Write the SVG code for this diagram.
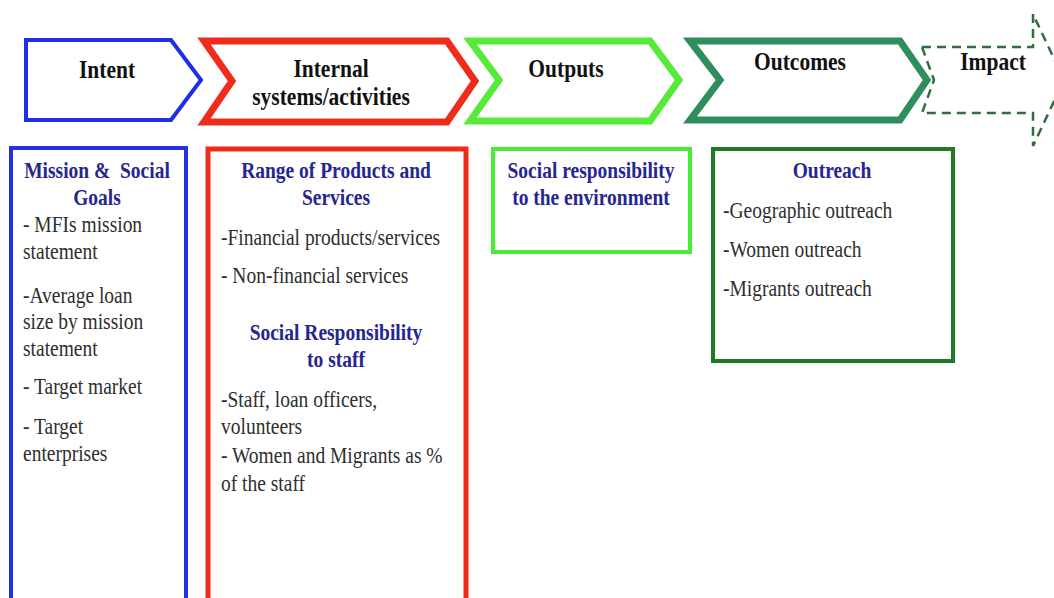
<svg xmlns="http://www.w3.org/2000/svg" width="1054" height="598" viewBox="0 0 1054 598">
  <style>
    .stage { fill: #ffffff; stroke-linejoin: miter; }
    .hdr { font-family: "Liberation Serif", "Times New Roman", serif; font-weight: bold; font-size: 21.5px; fill: #111111; text-anchor: middle; }
    .ttl { font-family: "Liberation Serif", "Times New Roman", serif; font-weight: bold; font-size: 19.5px; fill: #262690; text-anchor: middle; white-space: pre; }
    .txt { font-family: "Liberation Serif", "Times New Roman", serif; font-size: 19.5px; fill: #2e2e2e; }
    .panel { fill: #ffffff; }
  </style>
  <rect width="1054" height="598" fill="#ffffff"/>

  <!-- Stage chevrons -->
  <g id="stage-intent">
    <polygon class="stage" points="26,40 171,40 201,80 171,120 26,120" stroke="#1f30e4" stroke-width="4"/>
    <text class="hdr" transform="translate(107,78) scale(1,1.15)">Intent</text>
  </g>
  <g id="stage-internal">
    <polygon class="stage" points="204,41 447,41 475,81 447,122 204,122 232,81" stroke="#ef2b1c" stroke-width="7"/>
    <text class="hdr" transform="translate(331,77) scale(1,1.15)">Internal</text>
    <text class="hdr" transform="translate(331,105) scale(1,1.15)">systems/activities</text>
  </g>
  <g id="stage-outputs">
    <polygon class="stage" points="470,41 650,41 679,80 650,121 470,121 499,80" stroke="#58ea3a" stroke-width="7"/>
    <text class="hdr" transform="translate(566,77) scale(1,1.15)">Outputs</text>
  </g>
  <g id="stage-outcomes">
    <polygon class="stage" points="690,41 900,41 927,80 900,120 690,120 720,80" stroke="#2e8e5e" stroke-width="7"/>
    <text class="hdr" transform="translate(800,70) scale(1,1.15)">Outcomes</text>
  </g>
  <g id="stage-impact">
    <path d="M922,47 L1033,47 L1033,14 L1064,80 L1033,146 L1033,113 L922,113 L934,80 Z" fill="none" stroke="#2f6e40" stroke-width="2.5" stroke-dasharray="9 6"/>
    <text class="hdr" transform="translate(993,70) scale(1,1.15)">Impact</text>
  </g>

  <!-- Detail panels -->
  <g id="panel-intent">
    <rect class="panel" x="11" y="148" width="175" height="470" stroke="#2233dd" stroke-width="4"/>
    <text class="ttl" xml:space="preserve" transform="translate(97,178) scale(1,1.15)">Mission &amp;  Social</text>
    <text class="ttl" transform="translate(97,205) scale(1,1.15)">Goals</text>
    <text class="txt" transform="translate(23,232) scale(1,1.15)">- MFIs mission</text>
    <text class="txt" transform="translate(23,259) scale(1,1.15)">statement</text>
    <text class="txt" transform="translate(23,303) scale(1,1.15)">-Average loan</text>
    <text class="txt" transform="translate(23,329) scale(1,1.15)">size by mission</text>
    <text class="txt" transform="translate(23,356) scale(1,1.15)">statement</text>
    <text class="txt" transform="translate(23,394) scale(1,1.15)">- Target market</text>
    <text class="txt" transform="translate(23,434) scale(1,1.15)">- Target</text>
    <text class="txt" transform="translate(23,461) scale(1,1.15)">enterprises</text>
  </g>
  <g id="panel-internal">
    <rect class="panel" x="208" y="149" width="258" height="470" stroke="#ee2b1b" stroke-width="5"/>
    <text class="ttl" transform="translate(336,178) scale(1,1.15)">Range of Products and</text>
    <text class="ttl" transform="translate(336,205) scale(1,1.15)">Services</text>
    <text class="txt" transform="translate(221,245) scale(1,1.15)">-Financial products/services</text>
    <text class="txt" transform="translate(221,283) scale(1,1.15)">- Non-financial services</text>
    <text class="ttl" transform="translate(336,340) scale(1,1.15)">Social Responsibility</text>
    <text class="ttl" transform="translate(336,367) scale(1,1.15)">to staff</text>
    <text class="txt" transform="translate(221,407) scale(1,1.15)">-Staff, loan officers,</text>
    <text class="txt" transform="translate(221,434) scale(1,1.15)">volunteers</text>
    <text class="txt" transform="translate(221,463) scale(1,1.15)">- Women and Migrants as %</text>
    <text class="txt" transform="translate(221,491) scale(1,1.15)">of the staff</text>
  </g>
  <g id="panel-outputs">
    <rect class="panel" x="493" y="149" width="197" height="103" stroke="#44ec33" stroke-width="4"/>
    <text class="ttl" transform="translate(591,178) scale(1,1.15)">Social responsibility</text>
    <text class="ttl" transform="translate(591,205) scale(1,1.15)">to the environment</text>
  </g>
  <g id="panel-outcomes">
    <rect class="panel" x="713" y="149" width="240" height="212" stroke="#1e7b24" stroke-width="4"/>
    <text class="ttl" transform="translate(832,178) scale(1,1.15)">Outreach</text>
    <text class="txt" transform="translate(723,218) scale(1,1.15)">-Geographic outreach</text>
    <text class="txt" transform="translate(723,257) scale(1,1.15)">-Women outreach</text>
    <text class="txt" transform="translate(723,296) scale(1,1.15)">-Migrants outreach</text>
  </g>

  <!-- No connectors: stages abut one another -->
  <g id="connectors"/>
</svg>
